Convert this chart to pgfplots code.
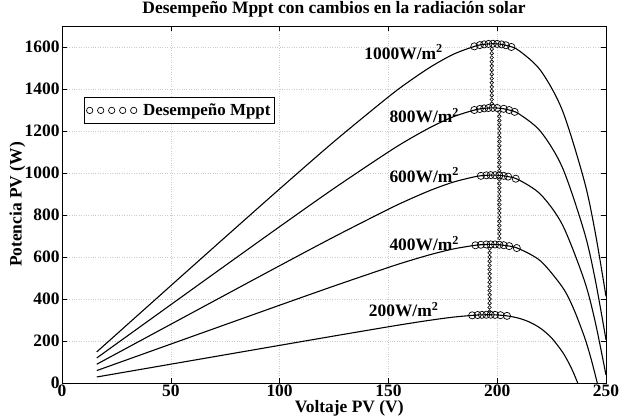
\documentclass[border=0pt]{standalone}
\usepackage{pgfplots}
\pgfplotsset{compat=1.18}
\usepackage{fontspec}
\setmainfont{Liberation Serif}

\newcommand{\lblfont}{\fontsize{17.5}{20}\selectfont\bfseries}
\newcommand{\legfont}{\fontsize{17}{19}\selectfont\bfseries}

\begin{document}
\begin{tikzpicture}
\begin{axis}[
  scale only axis, width=544bp, height=357bp,
  xmin=0, xmax=250, ymin=0, ymax=1700,
  xtick={0,50,...,250}, ytick={0,200,...,1600},
  tick align=inside, major tick length=5bp,
  axis line style={line width=0.6pt},
  every tick/.style={black, line width=0.6pt},
  /pgf/number format/assume math mode=true,
  /pgf/number format/1000 sep={},
  ticklabel style={font=\lblfont},
  xticklabel style={yshift=2bp},
  yticklabel style={xshift=1bp},
  grid=major, major grid style={dotted, gray!40, line width=0.5pt},
  title={Desempeño Mppt con cambios en la radiación solar},
  title style={font=\lblfont, at={(axis description cs:0.5,1.03)}, anchor=center},
  xlabel={Voltaje PV (V)},
  xlabel style={font=\lblfont, at={(axis description cs:0.528,-0.07)}, anchor=center},
  ylabel={Potencia PV (W)},
  ylabel style={font=\lblfont, at={(axis description cs:-0.082,0.5)}, anchor=center},
  legend style={at={(0.04,0.80)}, anchor=north west, draw=black, line width=0.8pt,
                font=\legfont, inner xsep=2pt, inner ysep=4pt},
  legend cell align=left,
]

% legend sample: a row of open circles
\addlegendimage{legend image code/.code={
  \foreach \k in {0,...,4} {\draw[black, line width=0.7pt] (\k*11bp+3bp,0bp) circle (3.2bp);}
  \path (54bp,0bp);
}}
\addlegendentry{Desempeño Mppt}

% P-V curves for each irradiance level
\addplot[black, line width=1.1pt, smooth, forget plot] coordinates {
 (16,148.3) (50,463.3) (75,694.4) (100,924.0) (125,1149.5) (150,1362.4)
 (160,1439.7) (170,1508.9) (180,1566.0) (190,1604.5) (195,1613.9) (200,1614.8)
 (205,1605.4) (210,1583.1) (220,1487.5) (230,1296.8) (240,962.7) (245,720.0) (250,412.5)
};
\addplot[black, line width=1.1pt, smooth, forget plot] coordinates {
 (16,119.4) (50,372.9) (75,559.0) (100,744.3) (125,926.7) (150,1100.2)
 (160,1163.8) (170,1221.0) (180,1268.5) (190,1300.9) (195,1308.8) (200,1309.5)
 (205,1301.3) (210,1281.5) (220,1197.1) (230,1025.2) (240,719.7) (245,494.6) (250,205.9)
};
\addplot[black, line width=1.1pt, smooth, forget plot] coordinates {
 (16,89.5) (50,279.6) (75,419.2) (100,558.4) (125,695.8) (150,827.5)
 (160,876.1) (170,920.3) (180,957.2) (190,982.7) (195,989.0) (200,989.6)
 (205,982.9) (210,967.0) (220,897.5) (230,752.8) (240,489.5) (245,293.0) (250,37.6)
};
\addplot[black, line width=1.1pt, smooth, forget plot] coordinates {
 (16,59.3) (50,185.3) (75,277.9) (100,370.3) (125,461.8) (150,550.3)
 (160,583.3) (170,613.4) (180,638.7) (190,655.8) (195,659.7) (200,659.1)
 (205,652.9) (210,639.3) (220,580.3) (230,456.0) (235,356.2) (240,221.9) (243,120.4) (246,0)
};
\addplot[black, line width=1.1pt, smooth, forget plot] coordinates {
 (16,28.7) (50,89.6) (75,134.4) (100,179.2) (125,223.8) (150,267.7)
 (160,284.5) (170,300.2) (180,313.9) (190,323.1) (195,324.9) (200,324.0)
 (205,318.9) (210,308.2) (215,289.5) (220,259.8) (225,214.5) (230,147.6)
 (233,93.4) (235,50.1) (237,0)
};

% MPPT operating points around each maximum
\addplot[only marks, mark=o, mark size=3.6pt, mark options={line width=0.7pt}, forget plot] coordinates {
 (189.5,1603) (192,1609) (194,1612.6) (196,1614.7) (198,1615.6) (200,1614.8) (202,1612.4) (204,1608.2) (206.5,1600.2)
 (189.5,1300) (192,1304.8) (194,1307.7) (196,1309.5) (198,1310.2) (200,1309.5) (203,1305.7) (205.5,1299.7) (208,1291)
 (192.5,986.5) (195,989) (197,990) (199,989.7) (201,988.8) (203,986.5) (205,982.9) (208.5,972.8)
 (190,655.8) (192.5,658.3) (195,659.7) (197,660) (199,659.7) (201,658.4) (203,656.2) (205.5,651.9) (209,642.7)
 (188.5,322.1) (191,323.7) (193,324.5) (195,324.9) (197,325) (199,324.4) (201.5,322.9) (204.5,319.6)
};

% MPPT transitions between irradiance steps
\addplot[only marks, mark=o, mark size=1.8pt, mark options={line width=0.6pt}, forget plot] coordinates {
 (197.5,1590) (197.5,1570) (197.5,1550) (197.5,1530) (197.5,1510) (197.5,1490) (197.5,1470)
 (197.5,1450) (197.5,1430) (197.5,1410) (197.5,1390) (197.5,1370) (197.5,1350) (197.5,1330)
 (201,1290) (201,1270) (201,1250) (201,1230) (201,1210) (201,1190) (201,1170) (201,1150)
 (201,1130) (201,1110) (201,1090) (201,1070) (201,1050) (201,1030) (201,1010)
 (201,970) (201,950) (201,930) (201,910) (201,890) (201,870) (201,850) (201,830)
 (201,810) (201,790) (201,770) (201,750) (201,730) (201,710) (201,690)
 (196.5,640) (196.5,620) (196.5,600) (196.5,580) (196.5,560) (196.5,540) (196.5,520) (196.5,500)
 (196.5,480) (196.5,460) (196.5,440) (196.5,420) (196.5,400) (196.5,380) (196.5,360) (196.5,340)
};

% irradiance labels
\node[font=\lblfont] at (axis cs:157,1576) {1000W/m\textsuperscript{2}};
\node[font=\lblfont] at (axis cs:166.5,1275) {800W/m\textsuperscript{2}};
\node[font=\lblfont] at (axis cs:166.5,990) {600W/m\textsuperscript{2}};
\node[font=\lblfont] at (axis cs:166.5,665) {400W/m\textsuperscript{2}};
\node[font=\lblfont] at (axis cs:157,350) {200W/m\textsuperscript{2}};
\end{axis}
\pgfresetboundingbox
\path (current axis.south west) ++(-62bp,-36bp) rectangle ++(630bp,419bp);
\end{tikzpicture}
\end{document}
